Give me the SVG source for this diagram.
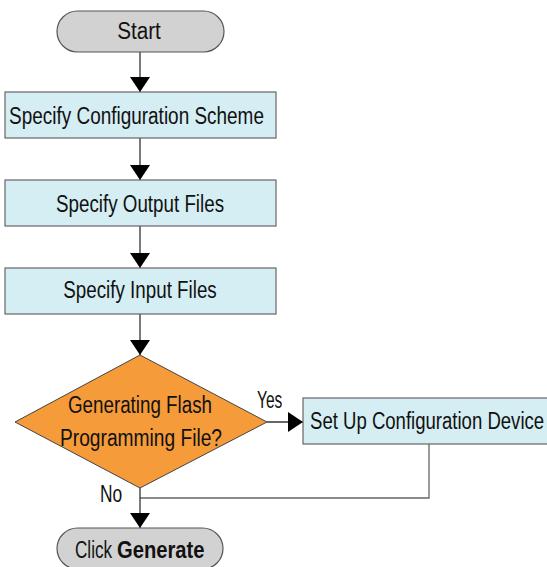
<svg xmlns="http://www.w3.org/2000/svg" width="547" height="567" viewBox="0 0 547 567">
<style>
text{font-family:"Liberation Sans",Arial,sans-serif;font-size:24.5px;fill:#111;}
.m{text-anchor:middle;}
.pill{fill:#d2d2d2;stroke:#555;stroke-width:1.2;}
.box{fill:#d5eef3;stroke:#666;stroke-width:1.2;}
.dia{fill:#f59b3a;stroke:#444;stroke-width:1;}
.c{fill:none;stroke:#333;stroke-width:1.3;}
.r{fill:none;stroke:#666;stroke-width:1.3;}
</style>
<defs>
<marker id="ah" markerUnits="userSpaceOnUse" markerWidth="16" markerHeight="21" refX="15" refY="10" orient="auto" viewBox="0 0 16 21">
<path d="M0,0 L15,10 L0,20 z" fill="#000"/>
</marker>
</defs>
<g id="connectors">
<line class="c" x1="140" y1="52" x2="140" y2="92" marker-end="url(#ah)"/>
<line class="c" x1="140" y1="138" x2="140" y2="180" marker-end="url(#ah)"/>
<line class="c" x1="140" y1="226" x2="140" y2="268" marker-end="url(#ah)"/>
<line class="c" x1="140" y1="314" x2="140" y2="355" marker-end="url(#ah)"/>
<line class="c" x1="267" y1="422" x2="303" y2="422" marker-end="url(#ah)"/>
<path class="r" d="M429,444 V498 H140"/>
<line class="c" x1="140" y1="488" x2="140" y2="528" marker-end="url(#ah)"/>
<text transform="translate(257,408) scale(0.633,1)">Yes</text>
<text transform="translate(100,502) scale(0.71,1)">No</text>
</g>
<g id="start">
<rect class="pill" x="57" y="11" width="167" height="41" rx="20.5"/>
<text class="m" transform="translate(139,39) scale(0.845,1)">Start</text>
</g>
<g id="scheme">
<rect class="box" x="5" y="92" width="271" height="46"/>
<text class="m" transform="translate(136.5,124) scale(0.774,1)">Specify Configuration Scheme</text>
</g>
<g id="output">
<rect class="box" x="5" y="180" width="271" height="46"/>
<text class="m" transform="translate(140,212) scale(0.767,1)">Specify Output Files</text>
</g>
<g id="input">
<rect class="box" x="5" y="268" width="271" height="46"/>
<text class="m" transform="translate(140,298) scale(0.767,1)">Specify Input Files</text>
</g>
<g id="decision">
<polygon class="dia" points="140,355 267,422 140,488 15,422"/>
<text class="m" transform="translate(140,413) scale(0.767,1)">Generating Flash</text>
<text class="m" transform="translate(141,446) scale(0.783,1)">Programming File?</text>
</g>
<g id="device">
<rect class="box" x="303" y="398" width="260" height="46"/>
<text transform="translate(310,429) scale(0.758,1)">Set Up Configuration Device</text>
</g>
<g id="end">
<rect class="pill" x="57" y="528" width="166" height="41" rx="20.5"/>
<text transform="translate(75,558) scale(0.70,1)">Click</text>
<text transform="translate(117,558) scale(0.825,1)" font-weight="bold">Generate</text>
</g>
</svg>
